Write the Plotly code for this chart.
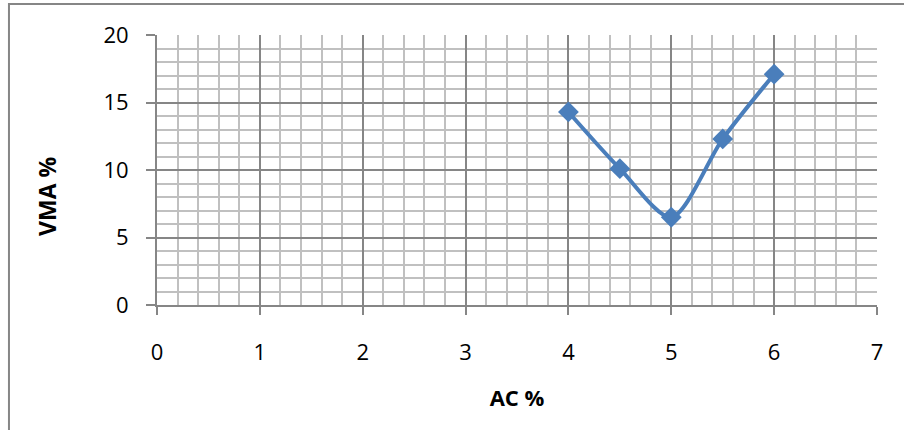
import plotly.graph_objects as go

ac_pct = [4, 4.5, 5, 5.5, 6]
vma_pct = [14.3, 10.1, 6.5, 12.3, 17.1]

x_tick_vals = [0, 1, 2, 3, 4, 5, 6, 7]
y_tick_vals = [0, 5, 10, 15, 20]

fig = go.Figure()
fig.add_trace(go.Scatter(
    x=ac_pct, y=vma_pct, mode="lines+markers",
    line=dict(color="#4a7ebb", width=4, shape="spline", smoothing=0.8),
    marker=dict(symbol="diamond", size=16, color="#4a7ebb"),
    showlegend=False,
))

font = "Open Sans, Liberation Sans, sans-serif"
fig.update_layout(
    width=904, height=430,
    margin=dict(l=157, r=27, t=35, b=125),
    paper_bgcolor="white", plot_bgcolor="white",
    font=dict(family=font, size=22, color="black"),
    xaxis=dict(
        range=[0, 7], tickvals=x_tick_vals, showgrid=True, gridcolor="#868686", gridwidth=1.5,
        minor=dict(dtick=0.2, showgrid=True, gridcolor="#c0c0c0", gridwidth=1.5),
        zeroline=False, showline=True, linecolor="#868686", linewidth=2,
        ticks="outside", ticklen=8, tickcolor="#868686", tickwidth=1.5,
        ticklabelstandoff=19,
        title=dict(text="<b>AC %</b>", standoff=25, font=dict(size=22)),
    ),
    yaxis=dict(
        range=[0, 20], tickvals=y_tick_vals, showgrid=True, gridcolor="#868686", gridwidth=1.5,
        minor=dict(dtick=1, showgrid=True, gridcolor="#c0c0c0", gridwidth=1.5),
        zeroline=False, showline=True, linecolor="#868686", linewidth=2,
        ticks="outside", ticklen=9, tickcolor="#868686", tickwidth=1.5,
        ticklabelstandoff=13,
    ),
    annotations=[dict(text="<b>VMA %</b>", xref="paper", yref="paper",
                      x=-0.1528, y=0.404, xanchor="center", yanchor="middle",
                      textangle=-90, showarrow=False, font=dict(size=23))],
    shapes=[dict(type="rect", xref="paper", yref="paper",
                 x0=-0.2056, x1=1.2, y0=-0.6, y1=1.1148,
                 line=dict(color="#868686", width=2), layer="below")],
)
fig.write_html("out.html", config={"displayModeBar": False},
               post_script="document.body.style.margin='0px';document.body.style.overflow='hidden';")
